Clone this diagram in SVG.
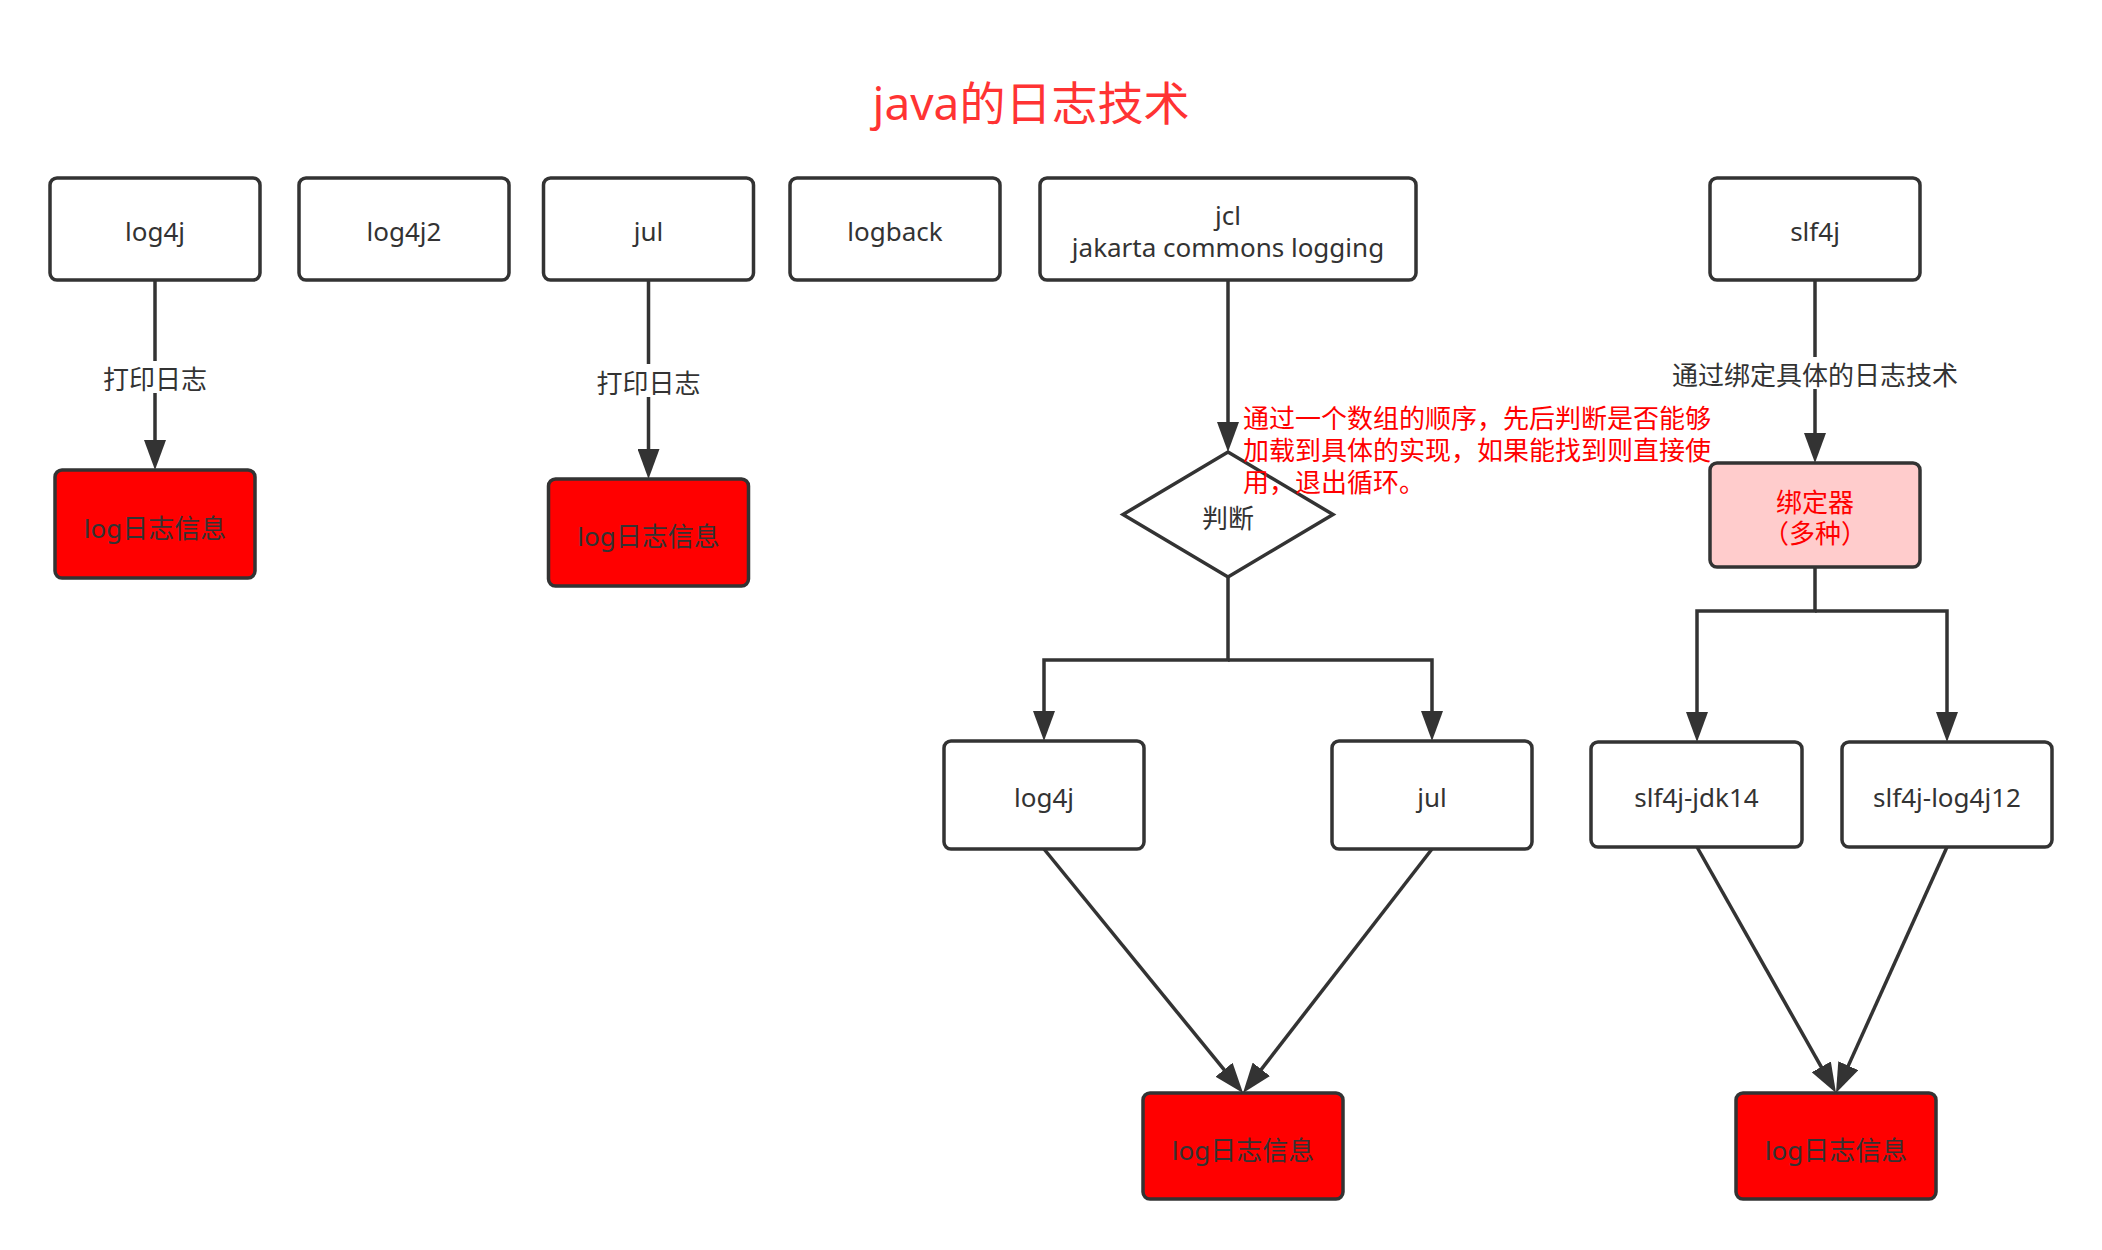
<svg xmlns="http://www.w3.org/2000/svg" width="2102" height="1250" viewBox="0 0 2102 1250">
<style>
  text { font-family: "Noto Sans", "Noto Sans CJK SC", sans-serif; font-size: 26px; fill: #333333; text-anchor: middle; }
  .box { fill: #ffffff; stroke: #333333; stroke-width: 3.5; }
  .red { fill: #ff0000; stroke: #333333; stroke-width: 3.5; }
  .pink { fill: #ffcccc; stroke: #333333; stroke-width: 3.5; }
  .edge { fill: none; stroke: #333333; stroke-width: 3.5; marker-end: url(#arrow); }
  .lblbg { fill: #ffffff; stroke: none; }
  .title { font-size: 46px; fill: #ff3333; }
  .note { fill: #ff0000; text-anchor: start; }
  .rtext { fill: #ff0000; }
</style>
<defs>
  <marker id="arrow" markerUnits="userSpaceOnUse" markerWidth="30" markerHeight="22" refX="20" refY="11" orient="auto" viewBox="0 0 30 22">
    <path d="M0,0 L30,11 L0,22 Z" fill="#333333"/>
  </marker>
</defs>
<rect x="0" y="0" width="2102" height="1250" fill="#ffffff"/>

<g id="title"><text class="title" x="1031" y="120">java的日志技术</text></g>

<g id="connectors">
  <path class="edge" d="M155,280 V460"/>
  <path class="edge" d="M648.5,280 V469"/>
  <path class="edge" d="M1228,280 V442"/>
  <path class="edge" d="M1228,577 V660 H1044 V731"/>
  <path class="edge" d="M1228,660 H1432 V731"/>
  <path class="edge" d="M1815,280 V453"/>
  <path class="edge" d="M1815,567 V611 H1697 V732"/>
  <path class="edge" d="M1815,611 H1947 V732"/>
  <path class="edge" d="M1044,849 L1236.7,1085.2"/>
  <path class="edge" d="M1432,849 L1249.1,1085.1"/>
  <path class="edge" d="M1697,847 L1831.1,1084.3"/>
  <path class="edge" d="M1947,847 L1840.1,1083.9"/>
  <rect class="lblbg" x="101" y="361" width="108" height="32"/>
  <text x="155" y="389">打印日志</text>
  <rect class="lblbg" x="594.5" y="364" width="108" height="33"/>
  <text x="648.5" y="393">打印日志</text>
  <rect class="lblbg" x="1670" y="357" width="290" height="32"/>
  <text x="1815" y="385">通过绑定具体的日志技术</text>
</g>

<g id="n-log4j"><rect class="box" x="50" y="178" width="210" height="102" rx="7"/><text x="155" y="241">log4j</text></g>
<g id="n-log4j2"><rect class="box" x="299" y="178" width="210" height="102" rx="7"/><text x="404" y="241">log4j2</text></g>
<g id="n-jul"><rect class="box" x="543.5" y="178" width="210" height="102" rx="7"/><text x="648.5" y="241">jul</text></g>
<g id="n-logback"><rect class="box" x="790" y="178" width="210" height="102" rx="7"/><text x="895" y="241">logback</text></g>
<g id="n-jcl"><rect class="box" x="1040" y="178" width="376" height="102" rx="7"/><text x="1228" y="225">jcl</text><text x="1228" y="256.5">jakarta commons logging</text></g>
<g id="n-slf4j"><rect class="box" x="1710" y="178" width="210" height="102" rx="7"/><text x="1815" y="241">slf4j</text></g>

<g id="n-red1"><rect class="red" x="55" y="470" width="200" height="108" rx="7"/><text x="155" y="538">log日志信息</text></g>
<g id="n-red2"><rect class="red" x="548.5" y="479" width="200" height="107" rx="7"/><text x="648.5" y="546">log日志信息</text></g>

<g id="n-judge"><path class="box" d="M1228,452 L1333,514.5 L1228,577 L1123,514.5 Z"/><text x="1228" y="528">判断</text></g>
<g id="n-note"><text class="note" x="1243" y="427.5">通过一个数组的顺序，先后判断是否能够</text><text class="note" x="1243" y="460">加载到具体的实现，如果能找到则直接使</text><text class="note" x="1243" y="492">用，退出循环。</text></g>

<g id="n-binder"><rect class="pink" x="1710" y="463" width="210" height="104" rx="7"/><text class="rtext" x="1815" y="512">绑定器</text><text class="rtext" x="1815" y="543">（多种）</text></g>

<g id="n-log4j-b"><rect class="box" x="944" y="741" width="200" height="108" rx="7"/><text x="1044" y="807">log4j</text></g>
<g id="n-jul-b"><rect class="box" x="1332" y="741" width="200" height="108" rx="7"/><text x="1432" y="807">jul</text></g>
<g id="n-jdk14"><rect class="box" x="1591" y="742" width="211" height="105" rx="7"/><text x="1696.5" y="807">slf4j-jdk14</text></g>
<g id="n-log4j12"><rect class="box" x="1842" y="742" width="210" height="105" rx="7"/><text x="1947" y="807">slf4j-log4j12</text></g>

<g id="n-red3"><rect class="red" x="1143" y="1093" width="200" height="106" rx="7"/><text x="1243" y="1160">log日志信息</text></g>
<g id="n-red4"><rect class="red" x="1736" y="1093" width="200" height="106" rx="7"/><text x="1836" y="1160">log日志信息</text></g>
</svg>
